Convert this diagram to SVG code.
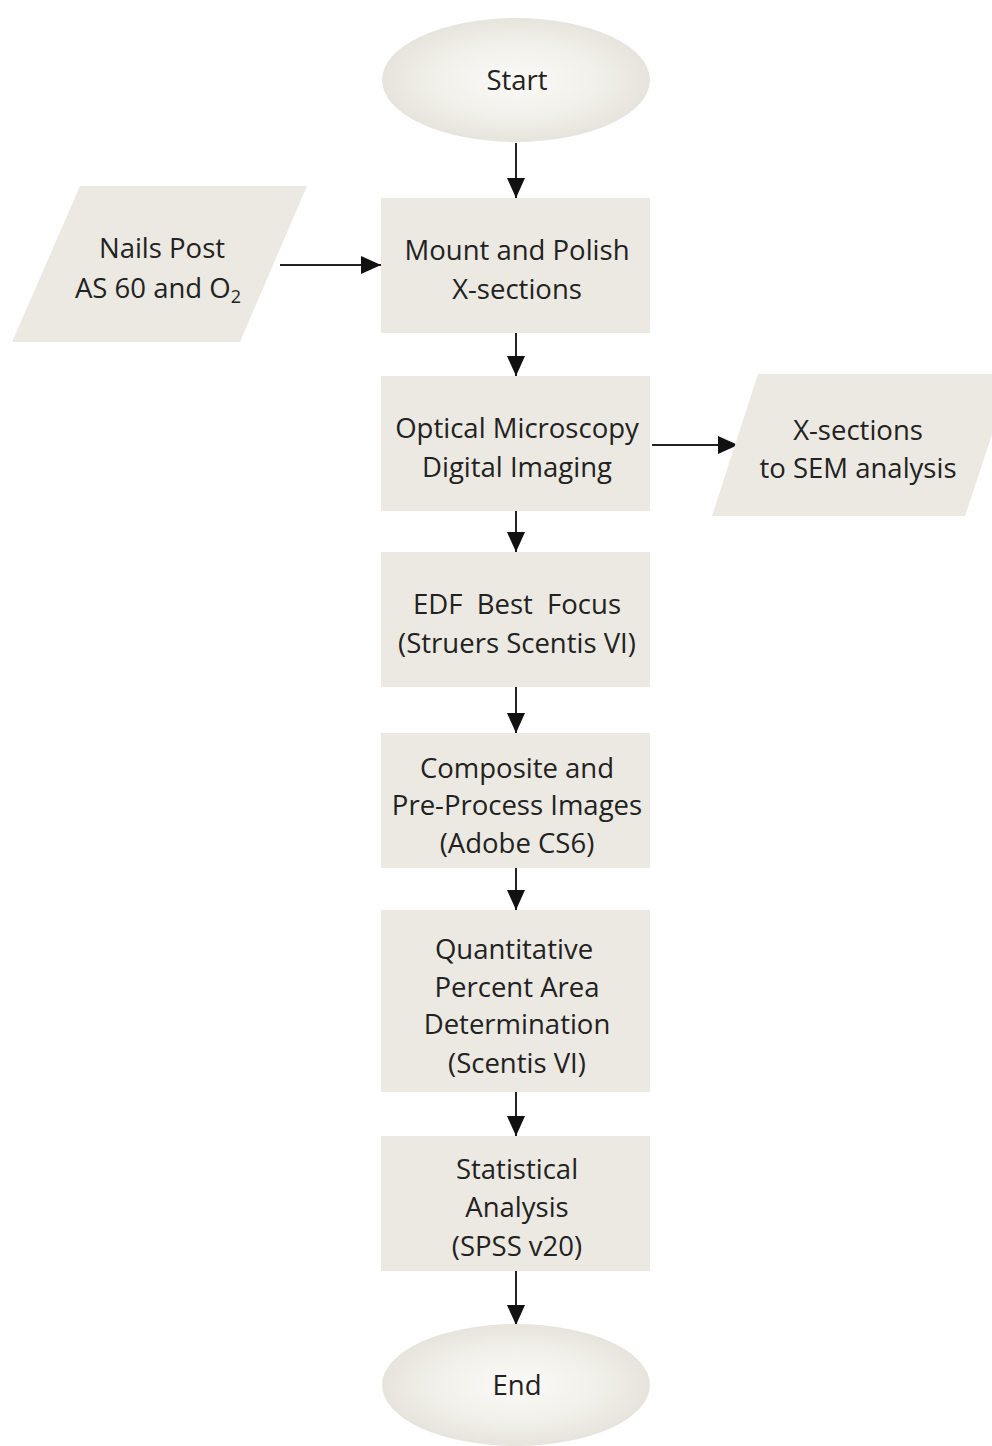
<svg xmlns="http://www.w3.org/2000/svg" width="992" height="1446" viewBox="0 0 992 1446">
<defs>
<radialGradient id="eg" cx="50%" cy="50%" r="50%">
<stop offset="0" stop-color="#fbfaf7"/>
<stop offset="0.6" stop-color="#f1f0ea"/>
<stop offset="1" stop-color="#e6e4dc"/>
</radialGradient>
<marker id="a" viewBox="0 0 20 20" refX="20" refY="10" markerWidth="20" markerHeight="20" markerUnits="userSpaceOnUse" orient="auto">
<path d="M0,1 L20,10 L0,19 z" fill="#111"/>
</marker>
</defs>
<style>
.box{fill:#ebe9e1}
.t{font-family:"Open Sans","Noto Sans",sans-serif;font-size:27.5px;fill:#222;text-anchor:middle}
.c{stroke:#222;stroke-width:2;fill:none;marker-end:url(#a)}
</style>
<rect width="992" height="1446" fill="#fff"/>
<g id="connectors">
<line class="c" x1="516" y1="143" x2="516" y2="198"/>
<line class="c" x1="280" y1="265" x2="381" y2="265"/>
<line class="c" x1="516" y1="333" x2="516" y2="376"/>
<line class="c" x1="652" y1="445" x2="738" y2="445"/>
<line class="c" x1="516" y1="511" x2="516" y2="552"/>
<line class="c" x1="516" y1="687" x2="516" y2="733"/>
<line class="c" x1="516" y1="868" x2="516" y2="910"/>
<line class="c" x1="516" y1="1092" x2="516" y2="1136"/>
<line class="c" x1="516" y1="1271" x2="516" y2="1325"/>
</g>
<g id="start">
<ellipse cx="516" cy="80" rx="134" ry="62" fill="url(#eg)"/>
<text class="t" x="517" y="90">Start</text>
</g>
<g id="nails">
<polygon class="box" points="80,186 307,186 240,342 12,342"/>
<text class="t" x="162" y="258">Nails Post</text>
<text class="t" x="158" y="298">AS 60 and O<tspan font-size="18" dy="5">2</tspan></text>
</g>
<g id="mount">
<rect class="box" x="381" y="198" width="269" height="135"/>
<text class="t" x="517" y="260">Mount and Polish</text>
<text class="t" x="517" y="299">X-sections</text>
</g>
<g id="optical">
<rect class="box" x="381" y="376" width="269" height="135"/>
<text class="t" x="517" y="438">Optical Microscopy</text>
<text class="t" x="517" y="477">Digital Imaging</text>
</g>
<g id="sem">
<polygon class="box" points="758,374 1012,374 965,516 712,516"/>
<text class="t" x="858" y="440">X-sections</text>
<text class="t" x="858" y="478">to SEM analysis</text>
</g>
<g id="edf">
<rect class="box" x="381" y="552" width="269" height="135"/>
<text class="t" x="517" y="614" xml:space="preserve">EDF  Best  Focus</text>
<text class="t" x="517" y="653">(Struers Scentis VI)</text>
</g>
<g id="composite">
<rect class="box" x="381" y="733" width="269" height="135"/>
<text class="t" x="517" y="778">Composite and</text>
<text class="t" x="517" y="815">Pre-Process Images</text>
<text class="t" x="517" y="853">(Adobe CS6)</text>
</g>
<g id="quantitative">
<rect class="box" x="381" y="910" width="269" height="182"/>
<text class="t" x="514" y="959">Quantitative</text>
<text class="t" x="517" y="997">Percent Area</text>
<text class="t" x="517" y="1034">Determination</text>
<text class="t" x="517" y="1073">(Scentis VI)</text>
</g>
<g id="statistical">
<rect class="box" x="381" y="1136" width="269" height="135"/>
<text class="t" x="517" y="1179">Statistical</text>
<text class="t" x="517" y="1217">Analysis</text>
<text class="t" x="517" y="1256">(SPSS v20)</text>
</g>
<g id="end">
<ellipse cx="516" cy="1385" rx="134" ry="61" fill="url(#eg)"/>
<text class="t" x="517" y="1395">End</text>
</g>
</svg>
